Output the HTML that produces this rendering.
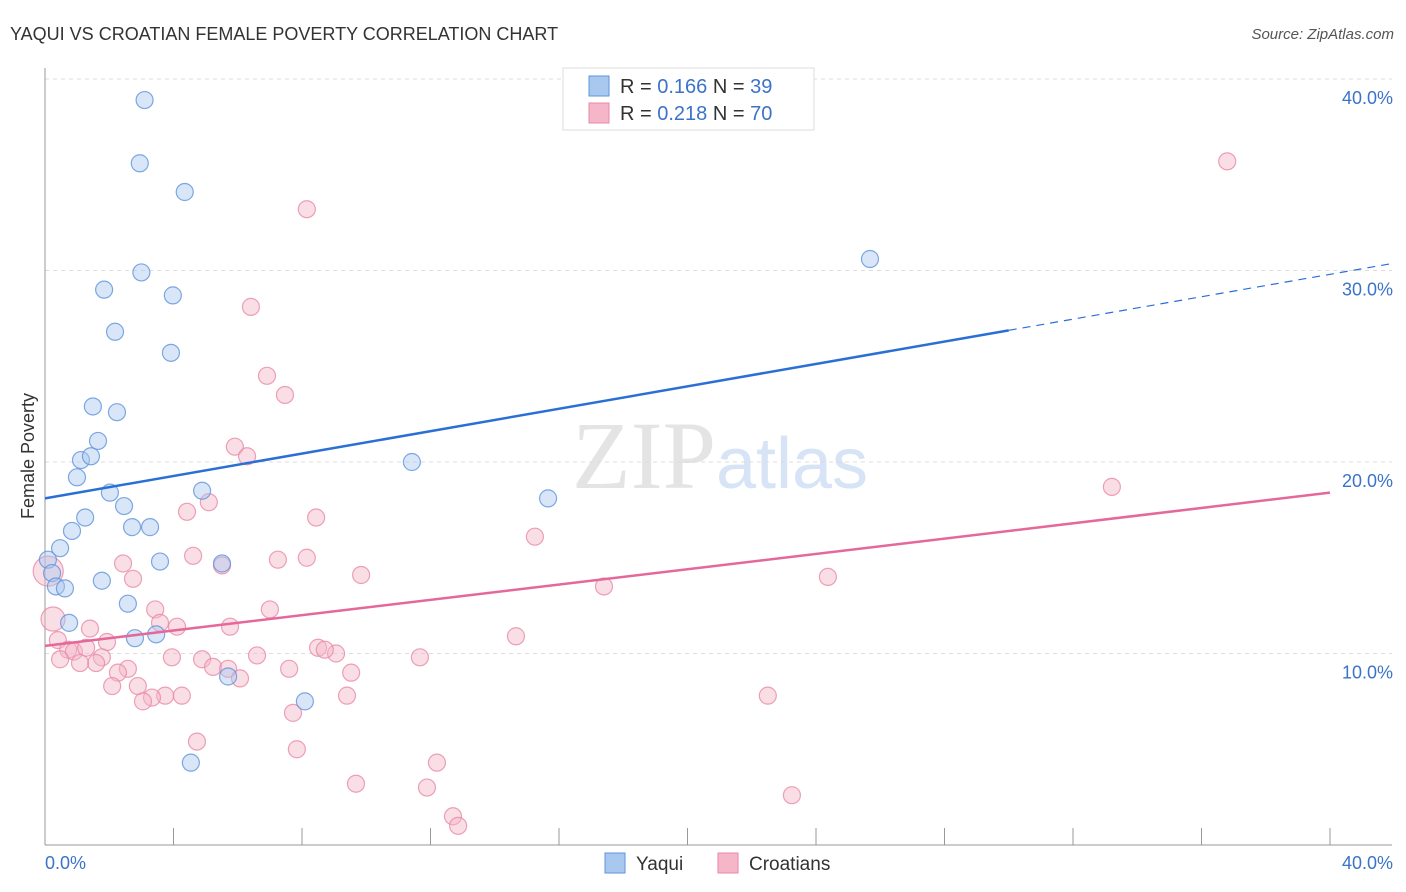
<!DOCTYPE html>
<html><head><meta charset="utf-8"><style>
body{margin:0;background:#fff;font-family:"Liberation Sans",sans-serif}
</style></head><body>
<svg id="c" width="1406" height="892" xmlns="http://www.w3.org/2000/svg" style="display:block"></svg>
<script>
const yaquiX=[3.1,2.95,4.35,3.0,1.84,3.98,2.18,3.92,1.49,2.24,1.65,1.12,1.43,0.995,2.02,4.89,2.46,1.25,0.84,2.71,3.27,0.47,0.09,3.58,5.51,0.22,1.77,0.34,0.62,2.58,0.75,2.8,3.46,5.7,8.09,4.54,11.42,15.66,25.68];
const yaquiY=[38.9,35.6,34.1,29.9,29.0,28.7,26.8,25.7,22.9,22.6,21.1,20.1,20.3,19.2,18.4,18.5,17.7,17.1,16.4,16.6,16.6,15.5,14.9,14.8,14.7,14.2,13.8,13.5,13.4,12.6,11.6,10.8,11.0,8.8,7.5,4.3,20.0,18.1,30.6];
const croX=[36.8,8.15,6.41,6.91,7.47,5.91,6.29,4.42,5.1,8.44,15.25,2.43,4.61,7.25,8.15,5.51,2.74,9.84,17.4,24.37,33.21,3.43,7.0,0.25,3.58,4.11,5.76,1.4,1.93,0.4,14.66,8.5,9.06,0.72,0.9,1.28,1.77,0.47,1.59,1.09,6.6,3.95,4.89,5.23,5.7,7.6,11.67,2.58,2.27,9.53,6.07,2.89,2.09,3.74,4.26,3.33,3.05,9.4,22.5,7.72,4.73,7.84,12.2,9.68,11.89,23.25,12.7,12.86,0.1,8.71];
const croY=[35.7,33.2,28.1,24.5,23.5,20.8,20.3,17.4,17.9,17.1,16.1,14.7,15.1,14.9,15.0,14.6,13.9,14.1,13.5,14.0,18.7,12.3,12.3,11.8,11.6,11.4,11.4,11.3,10.6,10.7,10.9,10.3,10.0,10.2,10.1,10.3,9.8,9.7,9.5,9.5,9.9,9.8,9.7,9.3,9.2,9.2,9.8,9.2,9.0,9.0,8.7,8.3,8.3,7.8,7.8,7.7,7.5,7.8,7.8,6.9,5.4,5.0,4.3,3.2,3.0,2.6,1.5,1.0,14.3,10.2];
const yTicks=[10,20,30,40];
const blueLine=[18.1,29.8], pinkLine=[10.4,18.4];
const X=v=>45+v*32.125, Y=v=>845-v*19.15;
const s=document.getElementById('c'),NS='http://www.w3.org/2000/svg';
function E(t,a,p){const e=document.createElementNS(NS,t);for(const k in a)e.setAttribute(k,a[k]);(p||s).appendChild(e);return e;}
let t=E('text',{x:10,y:40,'font-size':18,fill:'#333'});t.textContent='YAQUI VS CROATIAN FEMALE POVERTY CORRELATION CHART';

t=E('text',{x:1394,y:39,'font-size':15,fill:'#555','text-anchor':'end','font-style':'italic'});t.textContent='Source: ZipAtlas.com';

t=E('text',{x:720,y:488,'font-size':96,fill:'#e4e4e4','text-anchor':'middle','font-family':'Liberation Serif'});t.textContent='ZIP';

const t2=E('tspan',{fill:'#d6e4f5','font-family':'Liberation Sans','font-size':72},t);t2.textContent='atlas';
yTicks.forEach(v=>{let l=E('line',{x1:45,x2:1392,y1:Y(v),y2:Y(v),stroke:'#ddd','stroke-dasharray':'4,4'});

let tx=E('text',{x:1393,y:Y(v)+25,'font-size':18,fill:'#3b73c9','text-anchor':'end'});tx.textContent=v.toFixed(1)+'%';
});
E('line',{x1:45,x2:45,y1:68,y2:845,stroke:'#999'});
E('line',{x1:45,x2:1392,y1:845,y2:845,stroke:'#999'});
for(let i=1;i<=10;i++){let l=E('line',{x1:X(i*4),x2:X(i*4),y1:828,y2:845,stroke:'#999'});}
t=E('text',{x:45,y:869,'font-size':18,fill:'#3b73c9'});t.textContent='0.0%';
t=E('text',{x:1393,y:869,'font-size':18,fill:'#3b73c9','text-anchor':'end'});t.textContent='40.0%';
t=E('text',{x:34,y:456,'font-size':18,fill:'#333','text-anchor':'middle',transform:'rotate(-90 34 456)'});t.textContent='Female Poverty';

function pts(xs,ys,fill,stroke,name,big){xs.forEach((x,i)=>{let r=8.5;if(big&&i==68)r=15;if(big&&i==23)r=12;
let c=E('circle',{cx:X(x),cy:Y(ys[i]),r:r,fill:fill,'fill-opacity':0.45,stroke:stroke,'stroke-opacity':0.8,'stroke-width':1.2});
});}
pts(croX,croY,'#f4b6c8','#e88aa8','croatians-point',true);
pts(yaquiX,yaquiY,'#a8c8f0','#5f93db','yaqui-point',false);
const bAt=x=>blueLine[0]+(blueLine[1]-blueLine[0])*x/40;
let l=E('line',{x1:X(0),y1:Y(bAt(0)),x2:X(30),y2:Y(bAt(30)),stroke:'#2a6fd6','stroke-width':2.5});
l=E('line',{x1:X(30),y1:Y(bAt(30)),x2:1392,y2:Y(bAt((1392-45)/32.125)),stroke:'#2a6fd6','stroke-width':1.2,'stroke-dasharray':'8,6'});
l=E('line',{x1:X(0),y1:Y(pinkLine[0]),x2:X(40),y2:Y(pinkLine[1]),stroke:'#e5689a','stroke-width':2.5});
let g=E('g',{});
E('rect',{x:563,y:68,width:251,height:62,fill:'#fff',stroke:'#ddd'},g);
[[['0.166','39'],'#a8c8f0','#5f93db',86],[['0.218','70'],'#f4b6c8','#e88aa8',113]].forEach(([v,f,st,y])=>{
E('rect',{x:589,y:y-10,width:20,height:20,fill:f,stroke:st},g);
let tx=E('text',{x:620,y:y+7,'font-size':20,fill:'#333'},g);tx.innerHTML='R = <tspan fill="#3b73c9">'+v[0]+'</tspan>   N = <tspan fill="#3b73c9">'+v[1]+'</tspan>';
tx.setAttribute('xml:space','preserve');});
[['Yaqui','#a8c8f0','#5f93db',605],['Croatians','#f4b6c8','#e88aa8',718]].forEach(([n,f,st,x])=>{
let r=E('rect',{x:x,y:853,width:20,height:20,fill:f,stroke:st});
let tx=E('text',{x:x+31,y:870,'font-size':19,fill:'#333'});tx.textContent=n;});
</script>
</body></html>
